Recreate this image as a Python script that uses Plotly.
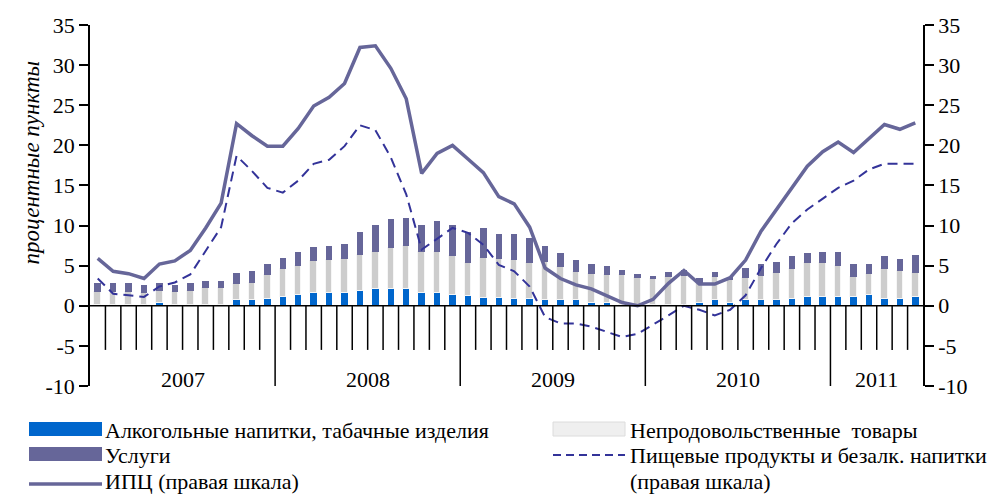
import plotly.graph_objects as go

years = ["2007", "2008", "2009", "2010", "2011"]
months_per_year = [12, 12, 12, 12, 6]

alcohol = [0.1, 0.1, 0.1, 0.1, 0.4, 0.1, 0.1, 0.1, 0.1, 0.7, 0.7, 0.9,
           1.1, 1.4, 1.6, 1.6, 1.6, 1.85, 2.1, 2.1, 2.1, 1.6, 1.6, 1.4,
           1.2, 1.0, 1.0, 0.9, 0.9, 0.7, 0.7, 0.7, 0.4, 0.4, 0.1, 0.05,
           0.05, 0.05, 0.1, 0.4, 0.7, 0.4, 0.7, 0.7, 0.7, 0.9, 1.1, 1.1,
           1.1, 1.1, 1.4, 0.9, 0.9, 1.1]
nonfood = [1.65, 1.65, 1.65, 1.45, 1.4, 1.65, 1.7, 2.15, 2.15, 2.0, 2.2, 2.95,
           3.5, 3.6, 4.0, 4.1, 4.2, 4.45, 4.6, 5.1, 5.3, 5.1, 5.1, 4.8,
           4.1, 5.0, 4.8, 4.8, 4.4, 4.8, 4.1, 3.5, 3.55, 3.45, 3.75, 3.4,
           3.3, 3.6, 3.6, 2.5, 2.95, 2.8, 2.75, 3.05, 3.35, 3.7, 4.2, 4.2,
           3.9, 2.55, 2.55, 3.7, 3.45, 2.95]
services = [1.05, 1.05, 1.05, 1.05, 1.0, 0.85, 1.0, 0.85, 0.85, 1.35, 1.4, 1.35,
            1.3, 1.65, 1.7, 1.8, 1.9, 2.9, 3.4, 3.6, 3.6, 3.4, 3.9, 3.9,
            3.9, 3.7, 3.15, 3.25, 3.15, 2.0, 1.75, 1.45, 1.25, 1.05, 0.65, 0.55,
            0.4, 0.55, 0.7, 0.6, 0.6, 0.45, 1.25, 1.45, 1.35, 1.55, 1.25, 1.45,
            1.75, 1.55, 1.25, 1.55, 1.5, 2.3]
cpi = [5.9, 4.3, 4.0, 3.4, 5.2, 5.6, 6.9, 9.7, 12.8, 22.7, 21.2, 19.9,
       19.9, 22.1, 24.9, 26.0, 27.7, 32.2, 32.4, 29.6, 25.8, 16.5, 19.0, 20.0,
       18.3, 16.6, 13.6, 12.7, 9.8, 4.7, 3.4, 2.6, 2.1, 1.2, 0.4, 0.0,
       0.8, 2.8, 4.4, 2.7, 2.7, 3.5, 5.7, 9.3, 12.0, 14.8, 17.4, 19.2,
       20.4, 19.1, 20.8, 22.6, 22.0, 22.8]
food = [3.4, 1.5, 1.3, 1.1, 2.4, 2.9, 3.9, 6.8, 9.8, 18.7, 16.8, 14.7,
        14.1, 15.6, 17.7, 18.2, 19.9, 22.5, 21.9, 18.5, 13.9, 7.0, 8.3, 9.7,
        9.1, 7.6, 5.1, 4.3, 2.4, -1.4, -2.2, -2.2, -2.6, -3.3, -3.9, -3.5,
        -2.4, -1.2, 0.0, -0.5, -1.2, -0.5, 1.3, 4.7, 7.7, 10.3, 12.0, 13.3,
        14.7, 15.6, 17.0, 17.7, 17.7, 17.7]
yticks = [-10, -5, 0, 5, 10, 15, 20, 25, 30, 35]
ytick_labels = ["-10", "-5", "0", "5", "10", "15", "20", "25", "30", "35"]

names = {
    "alc": "Алкогольные напитки, табачные изделия",
    "nonfood": "Непродовольственные  товары",
    "serv": "Услуги",
    "food": "Пищевые продукты и безалк. напитки",
    "cpi": "ИПЦ (правая шкала)",
    "right": "(правая шкала)",
}

FONT = "Liberation Serif"
C_ALC = "#0066CC"
C_SERV = "#666699"
C_NF = "#cdcdcd"
C_CPI = "#666699"
C_FOOD = "#333399"

n = len(cpi)
x = list(range(n))

fig = go.Figure()
fig.add_trace(go.Bar(x=x, y=alcohol, width=0.42, marker=dict(color=C_ALC, line=dict(width=0)),
                     name=names["alc"], showlegend=False))
fig.add_trace(go.Bar(x=x, y=nonfood, width=0.42,
                     marker=dict(color=C_NF, line=dict(width=1.3, color="#f6f6f6")),
                     name=names["nonfood"], showlegend=False))
fig.add_trace(go.Bar(x=x, y=services, width=0.42, marker=dict(color=C_SERV, line=dict(width=0)),
                     name=names["serv"], showlegend=False))
fig.add_trace(go.Scatter(x=x, y=food, mode="lines", yaxis="y2",
                         line=dict(color=C_FOOD, width=2, dash="10px,6px"),
                         name=names["food"], showlegend=False))
fig.add_trace(go.Scatter(x=x, y=cpi, mode="lines", yaxis="y2",
                         line=dict(color=C_CPI, width=3.5),
                         name=names["cpi"], showlegend=False))

shapes = []
boundaries = []
acc = 0
for m in months_per_year:
    acc += m
    boundaries.append(acc)
for i in range(1, n):
    is_year = i in boundaries
    shapes.append(dict(type="line", xref="x", yref="y", x0=i - 0.5, x1=i - 0.5,
                       y0=0, y1=-10.3 if is_year else -5.5,
                       line=dict(color="black", width=1.5)))

annotations = []
start = 0
for yr, m in zip(years, months_per_year):
    annotations.append(dict(x=start + m / 2 - 0.5, y=-9.2, xref="x", yref="y", text=yr,
                            showarrow=False, font=dict(family=FONT, size=22, color="black")))
    start += m

annotations.append(dict(x=-0.088, y=0.62, xref="paper", yref="paper", text="<i>процентные пункты</i>",
                        textangle=-90, showarrow=False,
                        font=dict(family=FONT, size=23, color="black")))

L, R, T, B = 90, 73, 25, 108
PW, PH = 996 - L - R, 494 - T - B


def px(xp):
    return (xp - L) / PW


def py(yp):
    return (494 - B - yp) / PH


def swatch(x0, x1, y0, y1, color, line_color=None):
    shapes.append(dict(type="rect", xref="paper", yref="paper", x0=px(x0), x1=px(x1),
                       y0=py(y1), y1=py(y0), fillcolor=color,
                       line=dict(width=1 if line_color else 0, color=line_color or color)))


def lline(x0, x1, yy, color, width, dash=None):
    d = dict(color=color, width=width)
    if dash:
        d["dash"] = dash
    shapes.append(dict(type="line", xref="paper", yref="paper", x0=px(x0), x1=px(x1),
                       y0=py(yy), y1=py(yy), line=d))


def ltext(xx, yy, t):
    annotations.append(dict(x=px(xx), y=py(yy), xref="paper", yref="paper", text=t,
                            xanchor="left", yanchor="middle", showarrow=False,
                            font=dict(family=FONT, size=22, color="black")))


swatch(29, 102, 422, 436, C_ALC)
ltext(103, 430, names["alc"])
swatch(29, 102, 447, 461, C_SERV)
ltext(103, 455, names["serv"])
lline(29, 102, 484, C_CPI, 3.5)
ltext(103, 481, names["cpi"])

swatch(553, 625, 422, 436, "#efefef", "#dcdcdc")
ltext(628, 430, names["nonfood"])
lline(553, 625, 455, C_FOOD, 2, "8px,5px")
ltext(628, 455, names["food"])
ltext(628, 481, names["right"])

axis_common = dict(range=[-10, 35], tickvals=yticks, ticktext=ytick_labels,
                   showgrid=False, zeroline=False,
                   showline=True, linecolor="black", linewidth=1.5,
                   ticks="outside", ticklen=9, tickwidth=1.5, tickcolor="black",
                   tickfont=dict(family=FONT, size=22, color="black"))

fig.update_layout(
    width=996, height=494,
    margin=dict(l=L, r=R, t=T, b=B),
    paper_bgcolor="white", plot_bgcolor="white",
    barmode="stack", bargap=0,
    showlegend=False,
    xaxis=dict(range=[-0.5, n - 0.5], showticklabels=False, showgrid=False,
               zeroline=False, showline=False, ticks=""),
    yaxis=dict(**axis_common, side="left"),
    yaxis2=dict(**axis_common, side="right", overlaying="y"),
    shapes=shapes + [dict(type="line", xref="paper", yref="y", x0=0, x1=1, y0=0, y1=0,
                          line=dict(color="black", width=1.5))],
    annotations=annotations,
)

fig.write_html("out.html", config={"displayModeBar": False},
               post_script="document.body.style.margin='0';document.body.style.overflow='hidden';")
